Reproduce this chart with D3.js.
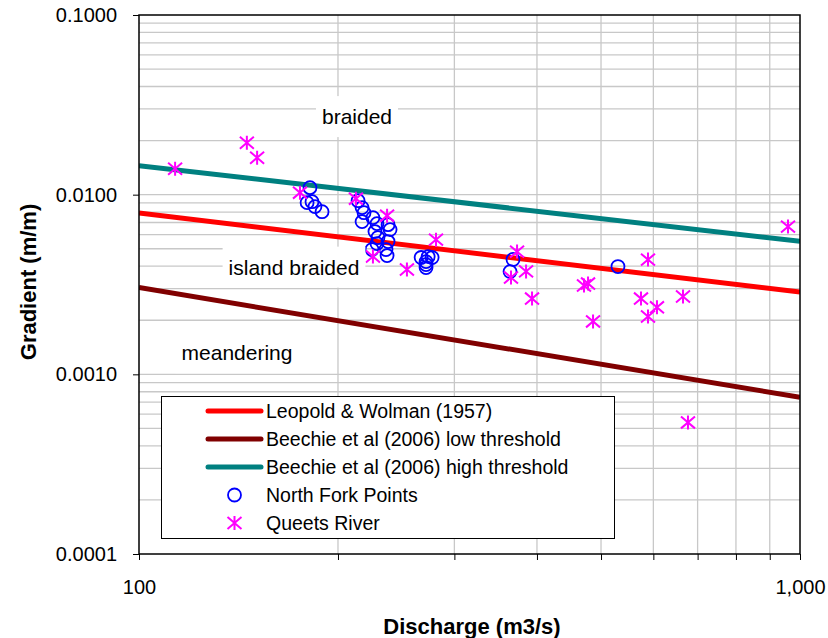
<!DOCTYPE html>
<html>
<head>
<meta charset="utf-8">
<script src="https://cdn.jsdelivr.net/npm/d3@7"></script>
<style>
  body { margin: 0; background: #fff; }
  text { font-family: "Liberation Sans", Arial, sans-serif; fill: #000; }
</style>
</head>
<body>
<svg id="chart" width="828" height="638"></svg>
<script>
// --- data ---
var curveQ = [100, 1000];
var leopoldS = [0.0079, 0.00287];
var beechieLowS = [0.00304, 0.000745];
var beechieHighS = [0.0145, 0.0055];

var northForkQ = [181.4, 179.6, 182.7, 184.6, 189.2, 214.5, 217.5, 219.0, 217.5, 225.9,
  229.1, 227.5, 229.9, 229.1, 238.1, 239.8, 238.1, 236.4, 237.3, 225.2,
  267.2, 273.8, 277.6, 271.8, 271.8, 271.8, 368.0, 364.2, 530.4];
var northForkS = [0.01094, 0.00903, 0.00914, 0.00858, 0.00804, 0.00926, 0.00847, 0.00794, 0.00708, 0.00745,
  0.0069, 0.00623, 0.00577, 0.00534, 0.00681, 0.00639, 0.00548, 0.00495, 0.00458, 0.00495,
  0.00447, 0.00452, 0.00447, 0.00424, 0.00408, 0.00393, 0.00436, 0.00373, 0.00398];

var queetsQ = [113.4, 145.6, 150.9, 175.2, 212.9, 237.3, 225.9, 281.4, 254.3, 373.2,
  365.4, 385.1, 393.2, 471.2, 477.9, 486.3, 588.9, 574.7, 607.6, 588.9,
  665.3, 959.1, 676.9];
var queetsS = [0.01394, 0.01945, 0.01606, 0.01026, 0.0095, 0.00764, 0.00453, 0.00562, 0.00383, 0.00482,
  0.00346, 0.00374, 0.00264, 0.00312, 0.0032, 0.00197, 0.00435, 0.00264, 0.00236, 0.0021,
  0.00271, 0.00664, 0.00054];

var yTicks = [0.1, 0.01, 0.001, 0.0001];
var xTickLabels = [100, 1000];
var xGridValues = [100, 200, 300, 400, 500, 600, 700, 800, 900, 1000];

var regionLabels = ["braided", "island braided", "meandering"];
var regionAt = [[357, 0.0272], [294, 0.00395], [237, 0.00132]];

var legendNames = ["Leopold & Wolman (1957)", "Beechie et al (2006) low threshold",
  "Beechie et al (2006) high threshold", "North Fork Points", "Queets River"];

// --- layout ---
var margin = {left: 139, top: 15, right: 28, bottom: 84};
var W = 828, H = 638;
var svg = d3.select("#chart");

var x = d3.scaleLog().domain([100, 1000]).range([margin.left, W - margin.right]);
var y = d3.scaleLog().domain([0.0001, 0.1]).range([H - margin.bottom, margin.top]);

var gridColor = "#c8c8c8";

// horizontal grid (minor 2..9 of each decade plus majors)
var yGrid = y.ticks().filter(function(v) { return v > 0.0001 && v < 0.1; });
svg.append("g").selectAll("line").data(yGrid).join("line")
  .attr("x1", x(100)).attr("x2", x(1000))
  .attr("y1", function(d) { return y(d); }).attr("y2", function(d) { return y(d); })
  .attr("stroke", gridColor).attr("stroke-width", 1.3);

// vertical grid
svg.append("g").selectAll("line").data(xGridValues.slice(1, -1)).join("line")
  .attr("x1", function(d) { return x(d); }).attr("x2", function(d) { return x(d); })
  .attr("y1", y(0.1)).attr("y2", y(0.0001))
  .attr("stroke", gridColor).attr("stroke-width", 1.3);

// threshold lines
var lineGen = d3.line().x(function(d) { return x(d[0]); }).y(function(d) { return y(d[1]); });
var curves = [
  {s: leopoldS, color: "#ff0000"},
  {s: beechieLowS, color: "#800000"},
  {s: beechieHighS, color: "#008080"}
];
svg.append("clipPath").attr("id", "clip").append("rect")
  .attr("x", x(100)).attr("y", y(0.1)).attr("width", x(1000) - x(100)).attr("height", y(0.0001) - y(0.1));
svg.append("g").attr("clip-path", "url(#clip)").selectAll("path").data(curves).join("path")
  .attr("d", function(c) { return lineGen(curveQ.map(function(q, i) { return [q, c.s[i]]; })); })
  .attr("fill", "none").attr("stroke", function(c) { return c.color; }).attr("stroke-width", 5);

// markers
function star(g, cx, cy) {
  var r = 7;
  g.append("path")
    .attr("d", "M" + cx + "," + (cy - r) + "V" + (cy + r) +
      "M" + (cx - r) + "," + (cy - r * 0.85) + "L" + (cx + r) + "," + (cy + r * 0.85) +
      "M" + (cx - r) + "," + (cy + r * 0.85) + "L" + (cx + r) + "," + (cy - r * 0.85))
    .attr("stroke", "#ff00ff").attr("stroke-width", 2).attr("fill", "none");
}
function ring(g, cx, cy) {
  g.append("circle").attr("cx", cx).attr("cy", cy).attr("r", 6.5)
    .attr("fill", "none").attr("stroke", "#0000ff").attr("stroke-width", 1.8);
}

var pts = svg.append("g");
northForkQ.forEach(function(q, i) { ring(pts, x(q), y(northForkS[i])); });
queetsQ.forEach(function(q, i) { star(pts, x(q), y(queetsS[i])); });

// region labels on white boxes
var lab = svg.append("g");
regionLabels.forEach(function(t, i) {
  var cx = regionAt[i][0], cy = y(regionAt[i][1]);
  var txt = lab.append("text").attr("x", cx).attr("y", cy).attr("text-anchor", "middle")
    .attr("dominant-baseline", "central").style("font-size", "21px").text(t);
  var bb = txt.node().getBBox();
  lab.insert("rect", function() { return txt.node(); })
    .attr("x", bb.x - 6).attr("y", bb.y - 9).attr("width", bb.width + 12).attr("height", bb.height + 18)
    .attr("fill", "#fff");
});

// frame
svg.append("rect").attr("x", x(100)).attr("y", y(0.1))
  .attr("width", x(1000) - x(100)).attr("height", y(0.0001) - y(0.1))
  .attr("fill", "none").attr("stroke", "#000").attr("stroke-width", 1.5);

// axes
var yAxis = d3.axisLeft(y).tickValues(yTicks).tickFormat(d3.format(".4f")).tickSize(6).tickPadding(16);
svg.append("g").attr("transform", "translate(" + x(100) + ",0)").call(yAxis)
  .call(function(g) { g.select(".domain").remove(); })
  .call(function(g) { g.selectAll("text").style("font-size", "20px").style("font-family", "Liberation Sans, Arial"); });

var xAxis = d3.axisBottom(x).tickValues(xGridValues).tickSize(6)
  .tickFormat(function(d) { return xTickLabels.indexOf(d) >= 0 ? d3.format(",")(d) : ""; }).tickPadding(20);
svg.append("g").attr("transform", "translate(0," + y(0.0001) + ")").call(xAxis)
  .call(function(g) { g.select(".domain").remove(); })
  .call(function(g) { g.selectAll("text").style("font-size", "20px").style("font-family", "Liberation Sans, Arial"); });

// axis titles
svg.append("text").attr("x", 472).attr("y", 634).attr("text-anchor", "middle")
  .style("font-size", "22px").style("font-weight", "bold").text("Discharge (m3/s)");
svg.append("text").attr("transform", "translate(36,282) rotate(-90)")
  .attr("text-anchor", "middle").style("font-size", "22px").style("font-weight", "bold").text("Gradient (m/m)");

// legend
var lg = svg.append("g");
lg.append("rect").attr("x", 161.5).attr("y", 396.5).attr("width", 453).attr("height", 142)
  .attr("fill", "#fff").attr("stroke", "#000").attr("stroke-width", 1);
var rowY = d3.scalePoint().domain(legendNames).range([411, 523]);
legendNames.forEach(function(name, i) {
  var ry = rowY(name);
  if (i < 3) {
    lg.append("line").attr("x1", 208).attr("x2", 261).attr("y1", ry).attr("y2", ry)
      .attr("stroke", curves[i].color).attr("stroke-width", 5).attr("stroke-linecap", "round");
  } else if (i === 3) {
    ring(lg, 234.5, ry);
  } else {
    star(lg, 234.5, ry);
  }
  lg.append("text").attr("x", 266).attr("y", ry).attr("dominant-baseline", "central")
    .style("font-size", "19.5px").text(name);
});
</script>
</body>
</html>
